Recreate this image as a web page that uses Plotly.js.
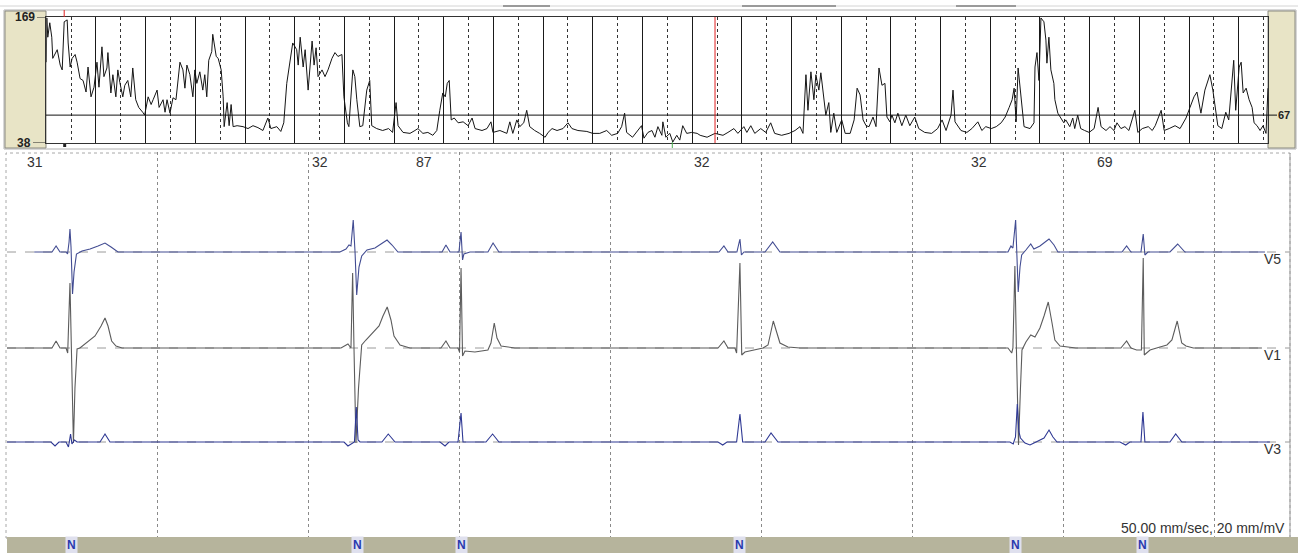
<!DOCTYPE html>
<html><head><meta charset="utf-8">
<script src="https://cdn.plot.ly/plotly-3.0.1.min.js"></script>
<style>html,body{margin:0;padding:0;background:#fff;}#chart{width:1298px;height:553px;}</style>
</head><body><div id="chart"></div>
<script>
// ---------- Heart-rate trend (top panel) ----------
const trendHours = [0.00,0.01,0.03,0.07,0.11,0.13,0.22,0.28,0.32,0.36,0.42,0.44,0.48,0.52,0.58,0.62,0.68,0.74,0.80,0.84,0.90,0.96,
1.02,1.06,1.12,1.16,1.22,1.24,1.30,1.34,1.40,1.44,1.48,1.54,1.58,1.64,1.70,1.74,1.80,1.86,1.94,1.98,
2.05,2.11,2.15,2.23,2.27,2.35,2.39,2.43,2.49,2.55,2.61,2.65,2.69,2.75,2.79,2.83,2.89,2.95,2.99,
3.03,3.09,3.15,3.19,3.23,3.27,3.33,3.35,3.42,3.46,3.52,3.56,3.58,3.64,3.68,3.72,3.76,3.84,3.96,
4.06,4.16,4.26,4.36,4.46,4.52,4.64,4.72,4.78,4.84,4.92,4.96,
5.04,5.07,5.11,5.17,5.21,5.27,5.35,5.39,5.43,5.47,5.55,5.61,5.67,5.75,5.81,5.87,5.95,5.99,
6.06,6.09,6.17,6.21,6.25,6.31,6.37,6.41,6.45,6.51,6.55,6.65,6.77,6.89,6.97,
7.04,7.08,7.18,7.32,7.42,7.48,7.58,7.68,7.78,7.86,7.92,7.98,
8.03,8.07,8.11,8.15,8.21,8.29,8.39,8.49,8.57,8.63,8.77,8.87,8.95,8.99,
9.13,9.27,9.33,9.39,9.47,9.53,9.61,9.67,9.73,9.83,9.93,
10.04,10.10,10.18,10.28,10.40,10.50,10.58,10.70,10.88,
11.00,11.14,11.28,11.38,11.50,11.58,11.64,11.68,11.80,11.90,11.98,
12.03,12.11,12.19,12.25,12.31,12.39,12.41,12.47,12.55,12.61,12.69,12.75,12.81,12.89,12.99,
13.10,13.16,13.30,13.46,13.62,13.72,13.84,13.92,
14.04,14.10,14.18,14.26,14.38,14.48,14.58,14.66,14.80,14.95,
15.07,15.17,15.23,15.29,15.33,15.39,15.45,15.49,15.55,15.59,15.65,15.69,15.75,15.79,15.85,15.91,
16.01,16.08,16.18,16.26,16.32,16.38,16.44,16.50,16.56,16.64,16.70,16.76,16.82,16.88,16.92,16.98,
17.02,17.08,17.14,17.22,17.30,17.38,17.48,17.56,17.68,17.82,17.94,
18.03,18.11,18.21,18.25,18.29,18.41,18.53,18.63,18.75,18.83,18.91,
19.02,19.12,19.22,19.30,19.38,19.44,19.48,19.52,19.56,19.62,19.68,19.80,19.88,19.90,19.94,19.98,
20.02,20.08,20.12,20.14,20.18,20.22,20.28,20.30,20.36,20.42,20.48,20.52,20.60,20.66,20.70,20.76,20.82,20.90,20.99,
21.09,21.17,21.23,21.33,21.41,21.49,21.55,21.63,21.71,21.79,21.91,21.97,
22.06,22.18,22.26,22.32,22.44,22.50,22.60,22.72,22.82,22.94,
23.02,23.10,23.16,23.24,23.32,23.42,23.48,23.52,23.58,23.66,23.74,23.80,23.86,23.90,23.94,
24.01,24.05,24.09,24.15,24.21,24.27,24.31,24.37,24.43,24.49,24.55,24.59];
const trendBpm = [122,168,148,163,148,126,135,119,114,164,166,142,117,126,130,122,105,103,91,117,86,96,
122,96,138,107,116,132,90,109,86,114,101,86,98,103,86,116,83,75,70,67,
86,78,83,93,75,83,70,83,69,85,83,103,122,114,95,119,109,86,114,
100,112,93,109,86,124,133,151,128,126,114,86,55,80,56,78,55,56,55,
53,56,54,51,64,53,55,50,59,100,132,142,
135,119,148,117,135,93,144,119,137,107,114,107,114,126,132,128,130,86,
59,55,114,107,83,55,56,72,93,103,56,53,51,53,49,
80,56,49,48,51,53,48,49,46,51,72,90,
86,100,103,62,64,59,60,56,64,53,51,53,60,49,
51,48,60,48,62,55,59,72,55,51,48,
44,49,53,51,53,59,53,51,50,
48,48,51,46,48,55,69,49,44,51,56,
43,49,51,44,55,46,60,44,48,39,46,41,56,48,49,
48,46,44,48,46,49,53,48,
55,49,56,48,53,49,59,48,46,48,
51,55,48,109,72,112,83,109,93,111,83,67,80,49,69,49,
62,48,48,62,95,88,62,56,55,65,55,116,98,100,65,60,
67,59,69,56,67,56,65,53,49,48,53,
62,51,67,93,60,51,49,53,60,51,55,
53,55,59,65,75,83,95,60,116,83,55,53,59,117,132,103,
168,164,145,121,148,114,100,83,69,64,59,62,55,64,53,67,53,51,49,
53,75,55,51,55,51,59,53,55,51,72,49,
53,55,51,56,72,51,53,56,53,64,
75,86,91,69,93,109,93,80,56,53,70,62,100,124,72,
117,122,90,95,83,75,59,56,51,56,48,95];
const hrMax = 169, hrMin = 38, hrRef = 67;
const trendSpanHours = 24.59;
const cursorHour = 13.46;
const markHour = 0.36;

// ---------- ECG strip (bottom panel), time in s, amplitude in mV ----------
const stripSeconds = 8.497;
const beatTimes = [0.430, 2.318, 3.007, 4.848, 6.682, 7.517];
const beatClass = ['N','N','N','N','N','N'];
const rrLabels = ['31','32','87','32','32','69'];
const leadNames = ['V5','V1','V3'];
const leadBaselines = [5.72, 3.80, 1.92];
const speedLabel = '50.00 mm/sec, 20 mm/mV';

const v5Time = [0.18,0.298,0.325,0.351,0.391,0.401,0.411,0.417,0.424,0.434,0.444,0.460,0.497,0.550,0.603,0.649,0.689,0.735,
 2.205,2.245,2.265,2.278,2.293,2.305,2.316,2.331,2.349,2.384,2.437,2.483,2.517,2.550,2.589,
 2.881,2.907,2.934,2.993,3.007,3.017,3.026,3.066,3.185,3.219,3.258,
 4.715,4.748,4.775,4.834,4.854,4.864,4.881,5.020,5.071,5.119,
 6.629,6.649,6.662,6.680,6.689,6.697,6.709,6.720,6.748,6.780,6.801,6.841,6.901,6.934,6.960,
 7.384,7.415,7.444,7.510,7.525,7.536,7.556,7.702,7.753,7.801,8.331];
const v5Amp = [0,0,0.12,0,0,-0.04,0.2,0.46,0.1,-0.84,-0.4,-0.04,0.02,0.06,0.12,0.18,0.1,0,
 0,0.06,0.14,0.12,0.64,0,-0.86,-0.3,-0.08,0.04,0.08,0.18,0.24,0.14,0,
 0,0.14,0,0,0.4,-0.16,-0.04,0,0,0.18,0,
 0,0.12,0,0,0.26,-0.06,0,0,0.2,0,
 0,0.12,0.08,0.64,0,-0.8,-0.3,-0.06,0.04,0.16,0.06,0.12,0.26,0.14,0,
 0,0.12,0,0,0.36,-0.06,0,0,0.16,0,0];

const v1Time = [0,0.298,0.325,0.351,0.391,0.402,0.417,0.427,0.440,0.450,0.464,0.483,0.528,0.583,0.623,0.649,0.669,0.693,0.722,0.762,
 2.212,2.258,2.278,2.289,2.298,2.311,2.328,2.349,2.377,2.417,2.464,2.490,2.518,2.543,2.563,2.603,2.669,
 2.874,2.907,2.934,2.987,2.997,3.007,3.017,3.033,3.099,3.185,3.205,3.227,3.245,3.272,3.364,
 4.709,4.748,4.775,4.821,4.832,4.854,4.861,4.866,4.887,4.921,5.007,5.040,5.075,5.099,5.119,5.172,5.252,
 6.629,6.654,6.662,6.675,6.685,6.699,6.712,6.722,6.748,6.780,6.808,6.841,6.868,6.896,6.921,6.940,6.974,7.079,
 7.377,7.415,7.444,7.481,7.513,7.525,7.532,7.570,7.636,7.682,7.715,7.750,7.780,7.808,7.857,8.311];
const v1Amp = [0,0,0.14,0,0,-0.1,1.3,0,-1.9,-0.8,-0.02,0,0.1,0.24,0.44,0.6,0.44,0.14,0.04,0,
 0,0.08,0,1.5,0,-1.9,-0.8,0.06,0.16,0.28,0.44,0.64,0.82,0.56,0.24,0.06,0,
 0,0.14,0,0,-0.08,1.6,-0.16,-0.06,-0.08,-0.04,0.1,0.5,0.2,0.04,0,
 0,0.14,0,0,-0.1,1.7,0,-0.14,-0.08,-0.06,0,0.06,0.54,0.3,0.1,0.02,0,
 0,-0.1,0,1.64,0,-1.94,-0.8,-0.04,0.12,0.26,0.22,0.4,0.64,0.92,0.5,0.16,0.04,0,
 0,0.14,0,-0.04,-0.04,1.8,-0.14,-0.04,0.02,0.06,0.16,0.54,0.1,0.04,0,0];

const v3Time = [0,0.291,0.318,0.344,0.391,0.407,0.421,0.430,0.447,0.464,0.616,0.649,0.682,
 2.232,2.258,2.285,2.301,2.313,2.325,2.338,2.483,2.525,2.570,
 2.868,2.901,2.927,2.987,3.007,3.020,3.172,3.216,3.258,
 4.709,4.740,4.768,4.832,4.854,4.872,5.020,5.060,5.106,
 6.642,6.664,6.679,6.691,6.702,6.712,6.742,6.775,6.815,6.868,6.901,6.927,6.954,
 7.371,7.409,7.437,7.510,7.523,7.536,7.702,7.740,7.781,8.364];
const v3Amp = [0,0,-0.08,0,0,-0.1,0.16,-0.04,0.04,0,0,0.16,0,
 0,-0.08,-0.02,0,0.7,0.04,0,0,0.16,0,
 0,-0.08,0,0,0.58,0,0,0.16,0,
 0,-0.06,0,0,0.56,0,0,0.18,0,
 0,-0.04,0.1,0.76,0.2,0.08,-0.02,-0.06,0,0.08,0.24,0.1,0,
 0,-0.06,0,0,0.6,0,0,0.16,0,0];

// ---------- build ----------
const W = 1298, H = 553;
const px = v => v / W;
const py = v => (H - v) / H;
const FONT = 'Liberation Sans, Arial, sans-serif';

const leadTimes = [v5Time, v1Time, v3Time];
const leadAmps = [v5Amp, v1Amp, v3Amp];
const leadColors = ['#424c92', '#5c5c5c', '#2f3994'];

const traces = [{
  x: trendHours, y: trendBpm, xaxis: 'x', yaxis: 'y', type: 'scatter', mode: 'lines',
  line: {color: '#151515', width: 1}, hoverinfo: 'skip'
}];
leadNames.forEach((name, i) => {
  traces.push({
    x: leadTimes[i], y: leadAmps[i].map(a => leadBaselines[i] + a),
    xaxis: 'x2', yaxis: 'y2', type: 'scatter', mode: 'lines', name: name,
    line: {color: leadColors[i], width: 1.1}, hoverinfo: 'skip'
  });
});

const shapes = [
  {type:'rect', xref:'paper', yref:'paper', x0:px(4), x1:px(1296), y0:py(149), y1:py(10), line:{color:'#b0b0b0', width:1}, layer:'below'},
  {type:'rect', xref:'paper', yref:'paper', x0:px(5), x1:px(46), y0:py(148), y1:py(11), fillcolor:'#e8e4c6', line:{color:'#8a8a80', width:1}, layer:'below'},
  {type:'rect', xref:'paper', yref:'paper', x0:px(1268), x1:px(1295), y0:py(148), y1:py(11), fillcolor:'#e8e4c6', line:{color:'#8a8a80', width:1}, layer:'below'},
  {type:'line', xref:'paper', yref:'paper', x0:0, x1:1, y0:py(6), y1:py(6), line:{color:'#d4d4d4', width:1}},
  {type:'line', xref:'paper', yref:'paper', x0:px(503), x1:px(550), y0:py(6), y1:py(6), line:{color:'#9a9a9a', width:2}},
  {type:'line', xref:'paper', yref:'paper', x0:px(742), x1:px(836), y0:py(6), y1:py(6), line:{color:'#9a9a9a', width:2}},
  {type:'line', xref:'paper', yref:'paper', x0:px(956), x1:px(1016), y0:py(6), y1:py(6), line:{color:'#9a9a9a', width:2}},
  {type:'line', xref:'paper', yref:'y', x0:px(37), x1:px(46), y0:hrMax, y1:hrMax, line:{color:'#222', width:1}},
  {type:'line', xref:'paper', yref:'y', x0:px(33), x1:px(46), y0:hrMin, y1:hrMin, line:{color:'#222', width:1}},
  {type:'line', xref:'paper', yref:'y', x0:px(46), x1:px(1277), y0:hrRef, y1:hrRef, line:{color:'#111', width:1}},
  {type:'line', xref:'x', yref:'y', x0:cursorHour, x1:cursorHour, y0:hrMin, y1:hrMax, line:{color:'#e02020', width:1}},
  {type:'line', xref:'x', yref:'paper', x0:markHour, x1:markHour, y0:py(17), y1:py(10), line:{color:'#e02020', width:1}},
  {type:'rect', xref:'x', yref:'paper', x0:markHour-0.02, x1:markHour+0.04, y0:py(147), y1:py(144), fillcolor:'#222', line:{width:0}},
  {type:'line', xref:'x', yref:'paper', x0:12.6, x1:12.6, y0:py(148), y1:py(142), line:{color:'#4caf50', width:1}},
  {type:'rect', xref:'paper', yref:'paper', x0:px(6), x1:px(1290), y0:py(538), y1:py(153), line:{color:'#a8a8a8', width:1, dash:'dot'}, layer:'below'},
  {type:'line', xref:'paper', yref:'paper', x0:px(1290), x1:px(1290), y0:py(538), y1:py(153), line:{color:'#9a9a9a', width:1}},
  {type:'rect', xref:'paper', yref:'paper', x0:px(7), x1:1, y0:0, y1:py(537), fillcolor:'#b6b49c', line:{width:0}}
];
leadBaselines.forEach(b => shapes.push({type:'line', xref:'x2 domain', yref:'y2', x0:0, x1:1, y0:b, y1:b,
  line:{color:'#9a9a9a', width:1, dash:'dash'}, layer:'below'}));

const annotations = [
  {text:'<b>169</b>', xref:'paper', yref:'y', x:px(37), y:hrMax, xanchor:'right', yanchor:'middle', showarrow:false, font:{family:FONT, size:12, color:'#222'}},
  {text:'<b>38</b>', xref:'paper', yref:'y', x:px(33), y:hrMin, xanchor:'right', yanchor:'middle', showarrow:false, font:{family:FONT, size:12, color:'#222'}},
  {text:'<b>67</b>', xref:'paper', yref:'y', x:px(1276), y:hrRef, xanchor:'left', yanchor:'middle', showarrow:false, font:{family:FONT, size:11, color:'#222'}},
  {text:speedLabel, xref:'paper', yref:'paper', x:px(1287), y:py(528), xanchor:'right', yanchor:'middle', showarrow:false, font:{family:FONT, size:14, color:'#333'}}
];
leadNames.forEach((name, i) => annotations.push({text:name, xref:'paper', yref:'y2', x:px(1262), y:leadBaselines[i], yshift:-7,
  xanchor:'left', yanchor:'middle', showarrow:false, font:{family:FONT, size:14, color:'#333'}}));
beatTimes.forEach((t, i) => {
  annotations.push({text:rrLabels[i], xref:'x2', yref:'paper', x:t, xshift:-37, y:py(162), xanchor:'center', yanchor:'middle',
    showarrow:false, font:{family:FONT, size:14, color:'#333'}});
  annotations.push({text:'<b>'+beatClass[i]+'</b>', xref:'x2', yref:'paper', x:t, y:py(545), xanchor:'center', yanchor:'middle',
    showarrow:false, bgcolor:'#dfe0ee', borderpad:1, font:{family:FONT, size:12, color:'#2a3aae'}});
});

const layout = {
  width: W, height: H, margin: {l:0, r:0, t:0, b:0},
  paper_bgcolor: '#ffffff', plot_bgcolor: 'rgba(0,0,0,0)', showlegend: false,
  xaxis: {domain:[px(46.3), px(1268)], range:[0, trendSpanHours], anchor:'y', tick0:0, dtick:1,
    showgrid:true, gridcolor:'#1a1a1a', gridwidth:1, zeroline:false, showticklabels:false, ticks:'',
    showline:true, linecolor:'#333', mirror:true,
    minor:{tick0:0.5, dtick:1, showgrid:true, gridcolor:'#333', griddash:'dot', gridwidth:1, ticks:''}},
  yaxis: {domain:[py(143), py(17)], range:[hrMin, hrMax], anchor:'x', showgrid:false, zeroline:false,
    showticklabels:false, ticks:'', showline:true, linecolor:'#333', mirror:true},
  xaxis2: {domain:[px(7), px(1290)], range:[0, stripSeconds], anchor:'y2', tick0:0, dtick:1,
    showgrid:true, gridcolor:'#8a8a8a', griddash:'dot', gridwidth:1, zeroline:false, showticklabels:false, ticks:'', showline:false},
  yaxis2: {domain:[py(538), py(152)], range:[0, 7.72], anchor:'x2', showgrid:false, zeroline:false,
    showticklabels:false, ticks:'', showline:false},
  shapes: shapes, annotations: annotations
};

Plotly.newPlot('chart', traces, layout, {displayModeBar:false, staticPlot:true});
</script>
</body></html>
